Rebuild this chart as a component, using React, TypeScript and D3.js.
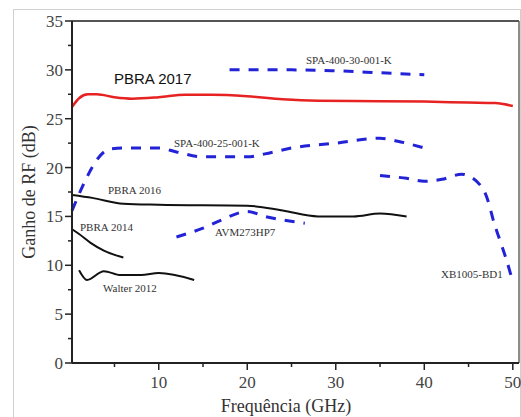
import React from "react";
import * as d3 from "d3";

// series values: [GHz, dB]
const pbra2017: [number, number][] = [
  [0.2, 26.2], [1, 27.1], [2, 27.5], [3, 27.5], [5, 27.2], [7, 27.05], [10, 27.2],
  [13, 27.45], [16, 27.45], [20, 27.3], [24, 27.0], [28, 26.85], [35, 26.8],
  [40, 26.75], [45, 26.65], [48, 26.6], [50, 26.3],
];
const spa30: [number, number][] = [[18, 30], [25, 30], [30, 29.9], [35, 29.7], [40, 29.5]];
const spa25: [number, number][] = [
  [0.2, 15.6], [4.5, 21.9], [6, 22], [10, 22], [12, 21.6], [15, 21.1], [20, 21.1],
  [22, 21.4], [25, 22.0], [30, 22.5], [35, 23.0], [37, 22.7], [40, 22.0],
];
const xb1005: [number, number][] = [
  [35, 19.2], [38, 18.9], [40, 18.6], [42, 18.8], [44.5, 19.3], [46.5, 18.0],
  [48, 14], [49.3, 10.5], [50, 8.3],
];
const pbra2016: [number, number][] = [
  [0.2, 17.2], [2.5, 16.9], [6, 16.3], [10, 16.2], [20, 16.1], [24, 15.6],
  [28, 15.0], [32, 15.0], [35, 15.3], [38, 15.0],
];
const pbra2014: [number, number][] = [[0.2, 13.7], [1, 13.2], [2.3, 12.3], [3.8, 11.5], [6, 10.8]];
const walter2012: [number, number][] = [
  [1, 9.5], [1.9, 8.5], [3.8, 9.4], [5.7, 9.0], [8, 9.0], [10, 9.2], [14, 8.5],
];
const avm273: [number, number][] = [[12, 12.9], [15, 13.8], [17, 14.6], [20, 15.5], [22, 15.0], [26.5, 14.3]];

const xTicks = [10, 20, 30, 40, 50];
const xMinor = [5, 15, 25, 35, 45];
const yTicks = [0, 5, 10, 15, 20, 25, 30, 35];
const yMinor = [2.5, 7.5, 12.5, 17.5, 22.5, 27.5, 32.5];

const blue = "#2222d6";
const red = "#e62222";

export default function App() {
  const width = 521;
  const height = 417;
  const left = 72;
  const right = 519;
  const top = 21;
  const bottom = 363;

  const x = d3.scaleLinear().domain([0.2, 50.7]).range([left, right]);
  const y = d3.scaleLinear().domain([0, 35]).range([bottom, top]);
  const line = d3
    .line<[number, number]>()
    .x((d) => x(d[0]))
    .y((d) => y(d[1]))
    .curve(d3.curveMonotoneX);
  // XB1005 drops almost vertically, so no monotone-x here
  const lineCR = d3
    .line<[number, number]>()
    .x((d) => x(d[0]))
    .y((d) => y(d[1]))
    .curve(d3.curveCatmullRom.alpha(0.5));

  const serif = "'Liberation Serif', 'Times New Roman', serif";

  const labels = [
    { t: "SPA-400-30-001-K", x: 306, y: 64 },
    { t: "SPA-400-25-001-K", x: 174, y: 147 },
    { t: "PBRA 2016", x: 108, y: 194 },
    { t: "PBRA 2014", x: 80, y: 231 },
    { t: "AVM273HP7", x: 215, y: 236 },
    { t: "Walter 2012", x: 103, y: 292 },
    { t: "XB1005-BD1", x: 441, y: 278 },
  ];

  return (
    <svg
      width={width}
      height={height}
      style={{ position: "absolute", left: 0, top: 0, background: "#fff" }}
    >
      <rect x={13.5} y={9.5} width={507} height={430} fill="#fff" stroke="#d0d0d0" />

      {/* frame top/right */}
      <line x1={left} x2={right} y1={top} y2={top} stroke="#555" strokeWidth={2} />
      <line x1={right} x2={right} y1={top} y2={bottom} stroke="#666" strokeWidth={1.5} />

      {/* series */}
      <path d={line(pbra2017) || ""} fill="none" stroke={red} strokeWidth={2.5} />
      <path d={line(spa30) || ""} fill="none" stroke={blue} strokeWidth={3} strokeDasharray="10 9" />
      <path d={line(spa25) || ""} fill="none" stroke={blue} strokeWidth={3} strokeDasharray="10 9" />
      <path d={lineCR(xb1005) || ""} fill="none" stroke={blue} strokeWidth={3} strokeDasharray="10 9" />
      <path d={line(avm273) || ""} fill="none" stroke={blue} strokeWidth={3} strokeDasharray="10 9" />
      <path d={line(pbra2016) || ""} fill="none" stroke="#111" strokeWidth={2} />
      <path d={line(pbra2014) || ""} fill="none" stroke="#111" strokeWidth={2} />
      <path d={line(walter2012) || ""} fill="none" stroke="#111" strokeWidth={2} />

      {/* axes */}
      <line x1={left} x2={right} y1={bottom} y2={bottom} stroke="#222" strokeWidth={2} />
      <line x1={left} x2={left} y1={top} y2={bottom} stroke="#222" strokeWidth={2} />
      {xTicks.map((t) => (
        <g key={"x" + t}>
          <line x1={x(t)} x2={x(t)} y1={bottom} y2={bottom + 7} stroke="#222" strokeWidth={1.5} />
          <text x={x(t)} y={388} textAnchor="middle" fontFamily={serif} fontSize={17} fill="#444">
            {t}
          </text>
        </g>
      ))}
      {xMinor.map((t) => (
        <line key={"xm" + t} x1={x(t)} x2={x(t)} y1={bottom} y2={bottom + 4} stroke="#222" strokeWidth={1.5} />
      ))}
      {yTicks.map((t) => (
        <g key={"y" + t}>
          <line x1={left - 7} x2={left} y1={y(t)} y2={y(t)} stroke="#222" strokeWidth={1.5} />
          <text x={63} y={y(t) + 6} textAnchor="end" fontFamily={serif} fontSize={17} fill="#444">
            {t}
          </text>
        </g>
      ))}
      {yMinor.map((t) => (
        <line key={"ym" + t} x1={left - 4} x2={left} y1={y(t)} y2={y(t)} stroke="#222" strokeWidth={1.5} />
      ))}

      {/* titles */}
      <text
        transform="translate(35,192) rotate(-90)"
        textAnchor="middle"
        fontFamily={serif}
        fontSize={18}
        fill="#333"
      >
        Ganho de RF (dB)
      </text>
      <text x={286} y={412} textAnchor="middle" fontFamily={serif} fontSize={18} fill="#333">
        Frequência (GHz)
      </text>

      {/* series labels */}
      <text x={114} y={84} fontFamily="'Liberation Sans', Arial, sans-serif" fontSize={15} fill="#111">
        PBRA 2017
      </text>
      {labels.map((l) => (
        <text key={l.t} x={l.x} y={l.y} fontFamily={serif} fontSize={11} fill="#333">
          {l.t}
        </text>
      ))}
    </svg>
  );
}
